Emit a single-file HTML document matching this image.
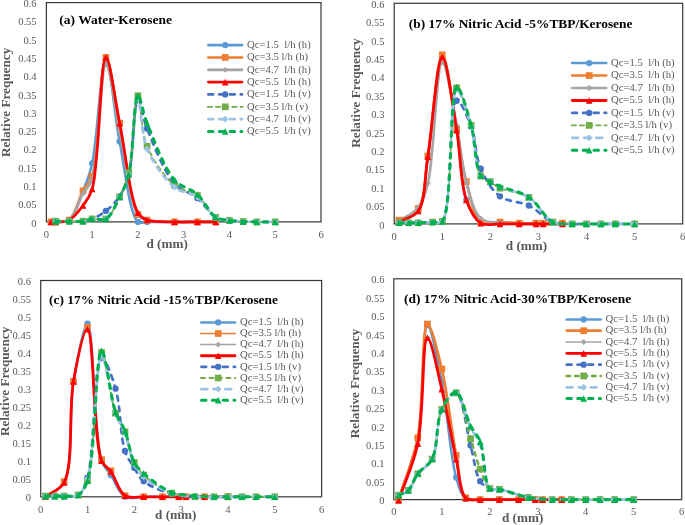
<!DOCTYPE html>
<html><head><meta charset="utf-8"><title>Drop size distributions</title>
<style>
html,body{margin:0;padding:0;background:#fff;}
body{width:685px;height:525px;overflow:hidden;font-family:"Liberation Serif",serif;}
svg{display:block;font-family:"Liberation Serif",serif;will-change:transform;}
.tk{font-size:10.5px;fill:#595959;}
.lg{font-size:10.7px;fill:#595959;white-space:pre;}
.tt{font-size:13.5px;font-weight:bold;fill:#000;}
.tt.sm{font-size:13.4px;}
.ax{font-size:13.2px;font-weight:bold;fill:#595959;}
</style></head><body>
<svg width="685" height="525" viewBox="0 0 685 525">
<rect width="685" height="525" fill="#fff"/>

<g id="panel-a">
<rect x="46.4" y="2.6" width="274.6" height="219.3" fill="#fff" stroke="#363636" stroke-width="1.2"/>
<text class="tk" x="36.6" y="226.5" text-anchor="end">0</text>
<text class="tk" x="36.6" y="208.22" text-anchor="end">0.05</text>
<text class="tk" x="36.6" y="189.95" text-anchor="end">0.1</text>
<text class="tk" x="36.6" y="171.67" text-anchor="end">0.15</text>
<text class="tk" x="36.6" y="153.4" text-anchor="end">0.2</text>
<text class="tk" x="36.6" y="135.12" text-anchor="end">0.25</text>
<text class="tk" x="36.6" y="116.85" text-anchor="end">0.3</text>
<text class="tk" x="36.6" y="98.57" text-anchor="end">0.35</text>
<text class="tk" x="36.6" y="80.3" text-anchor="end">0.4</text>
<text class="tk" x="36.6" y="62.02" text-anchor="end">0.45</text>
<text class="tk" x="36.6" y="43.75" text-anchor="end">0.5</text>
<text class="tk" x="36.6" y="25.47" text-anchor="end">0.55</text>
<text class="tk" x="36.6" y="7.2" text-anchor="end">0.6</text>
<text class="tk" x="46.4" y="238.3" text-anchor="middle">0</text>
<text class="tk" x="92.17" y="238.3" text-anchor="middle">1</text>
<text class="tk" x="137.93" y="238.3" text-anchor="middle">2</text>
<text class="tk" x="183.7" y="238.3" text-anchor="middle">3</text>
<text class="tk" x="229.47" y="238.3" text-anchor="middle">4</text>
<text class="tk" x="275.23" y="238.3" text-anchor="middle">5</text>
<text class="tk" x="321" y="238.3" text-anchor="middle">6</text>
<text class="ax" transform="translate(10.3 102.4) rotate(-90)" text-anchor="middle">Relative Frequency</text>
<text class="ax" x="167.1" y="247.8" text-anchor="middle">d (mm)</text>
<path d="M50.98 221.9C52.5 221.9 53.62 222.03 55.55 221.9C58.91 221.68 65.33 222.97 69.28 220.07C75.32 215.65 79.13 200.53 83.01 190.83C86.69 181.66 89.34 175.68 92.17 163.42C97.56 140.05 101.02 59.34 105.9 59.25C110.24 59.18 114.27 114.31 119.63 141.49C124.96 168.52 129.54 215.2 137.93 221.9C140.73 224.13 143.22 221.9 147.09 221.9C153.79 221.9 165.81 221.9 174.55 221.9C182.52 221.9 190.23 221.9 197.43 221.9C203.87 221.9 209.63 221.9 215.74 221.9" fill="none" stroke="#5B9BD5" stroke-width="2.6" stroke-linecap="round" stroke-linejoin="round"/>
<circle cx="50.98" cy="221.9" r="3.15" fill="#5B9BD5"/><circle cx="55.55" cy="221.9" r="3.15" fill="#5B9BD5"/><circle cx="69.28" cy="220.07" r="3.15" fill="#5B9BD5"/><circle cx="83.01" cy="190.83" r="3.15" fill="#5B9BD5"/><circle cx="92.17" cy="163.42" r="3.15" fill="#5B9BD5"/><circle cx="105.9" cy="59.25" r="3.15" fill="#5B9BD5"/><circle cx="119.63" cy="141.49" r="3.15" fill="#5B9BD5"/><circle cx="137.93" cy="221.9" r="3.15" fill="#5B9BD5"/><circle cx="147.09" cy="221.9" r="3.15" fill="#5B9BD5"/><circle cx="174.55" cy="221.9" r="3.15" fill="#5B9BD5"/><circle cx="197.43" cy="221.9" r="3.15" fill="#5B9BD5"/><circle cx="215.74" cy="221.9" r="3.15" fill="#5B9BD5"/>
<path d="M50.98 221.9C52.5 221.9 53.62 222.03 55.55 221.9C58.91 221.68 65.33 222.97 69.28 220.07C75.32 215.65 78.67 198.8 83.01 190.83C86.19 185.01 89.48 183.88 92.17 176.21C99.25 156.01 100.45 57.67 105.9 57.42C109.98 57.24 114.77 99.48 119.63 123.21C125.34 151.17 129.65 202.85 137.93 214.59C140.74 218.56 143.02 218.8 147.09 220.07C153.62 222.12 165.81 221.61 174.55 221.9C182.52 222.16 190.23 221.9 197.43 221.9C203.87 221.9 209.63 221.9 215.74 221.9" fill="none" stroke="#ED7D31" stroke-width="2.6" stroke-linecap="round" stroke-linejoin="round"/>
<rect x="47.63" y="218.55" width="6.7" height="6.7" fill="#ED7D31"/><rect x="52.2" y="218.55" width="6.7" height="6.7" fill="#ED7D31"/><rect x="65.93" y="216.72" width="6.7" height="6.7" fill="#ED7D31"/><rect x="79.66" y="187.48" width="6.7" height="6.7" fill="#ED7D31"/><rect x="88.82" y="172.86" width="6.7" height="6.7" fill="#ED7D31"/><rect x="102.55" y="54.07" width="6.7" height="6.7" fill="#ED7D31"/><rect x="116.28" y="119.86" width="6.7" height="6.7" fill="#ED7D31"/><rect x="134.58" y="211.24" width="6.7" height="6.7" fill="#ED7D31"/><rect x="143.74" y="216.72" width="6.7" height="6.7" fill="#ED7D31"/><rect x="171.2" y="218.55" width="6.7" height="6.7" fill="#ED7D31"/><rect x="194.08" y="218.55" width="6.7" height="6.7" fill="#ED7D31"/><rect x="212.39" y="218.55" width="6.7" height="6.7" fill="#ED7D31"/>
<path d="M50.98 221.9C52.5 221.9 53.62 222.03 55.55 221.9C58.91 221.68 65.3 222.88 69.28 220.07C75.15 215.94 78.71 200.75 83.01 193.39C86.22 187.91 89.48 186.85 92.17 179.5C99.26 160.13 100.51 64.97 105.9 64.73C110 64.56 114.67 107.26 119.63 130.52C125.24 156.84 129.94 203.45 137.93 214.59C140.75 218.51 143.02 218.8 147.09 220.07C153.62 222.12 165.81 221.61 174.55 221.9C182.52 222.16 190.23 221.9 197.43 221.9C203.87 221.9 209.63 221.9 215.74 221.9" fill="none" stroke="#A5A5A5" stroke-width="2.7" stroke-linecap="round" stroke-linejoin="round"/>
<path d="M50.98 219L53.88 221.9L50.98 224.8L48.08 221.9Z" fill="#A5A5A5"/><path d="M55.55 219L58.45 221.9L55.55 224.8L52.65 221.9Z" fill="#A5A5A5"/><path d="M69.28 217.17L72.18 220.07L69.28 222.97L66.38 220.07Z" fill="#A5A5A5"/><path d="M83.01 190.49L85.91 193.39L83.01 196.29L80.11 193.39Z" fill="#A5A5A5"/><path d="M92.17 176.6L95.07 179.5L92.17 182.4L89.27 179.5Z" fill="#A5A5A5"/><path d="M105.9 61.83L108.8 64.73L105.9 67.63L103 64.73Z" fill="#A5A5A5"/><path d="M119.63 127.62L122.53 130.52L119.63 133.42L116.73 130.52Z" fill="#A5A5A5"/><path d="M137.93 211.69L140.83 214.59L137.93 217.49L135.03 214.59Z" fill="#A5A5A5"/><path d="M147.09 217.17L149.99 220.07L147.09 222.97L144.19 220.07Z" fill="#A5A5A5"/><path d="M174.55 219L177.45 221.9L174.55 224.8L171.65 221.9Z" fill="#A5A5A5"/><path d="M197.43 219L200.33 221.9L197.43 224.8L194.53 221.9Z" fill="#A5A5A5"/><path d="M215.74 219L218.64 221.9L215.74 224.8L212.84 221.9Z" fill="#A5A5A5"/>
<path d="M50.98 221.9C52.5 221.9 53.62 222.03 55.55 221.9C58.91 221.68 65.06 222.24 69.28 220.07C74.37 217.46 79.16 210.73 83.01 205.45C86.74 200.34 89.48 197.52 92.17 189C99.29 166.44 100.24 57.71 105.9 57.42C109.93 57.22 114.75 99.59 119.63 123.21C125.32 150.76 130.05 199.88 137.93 212.76C140.76 217.37 142.88 218.44 147.09 220.07C153.53 222.57 165.81 221.61 174.55 221.9C182.52 222.16 190.23 221.9 197.43 221.9C203.87 221.9 209.63 221.9 215.74 221.9" fill="none" stroke="#FF0000" stroke-width="2.75" stroke-linecap="round" stroke-linejoin="round"/>
<path d="M50.98 218.6L54.28 225.2L47.68 225.2Z" fill="#FF0000"/><path d="M55.55 218.6L58.85 225.2L52.25 225.2Z" fill="#FF0000"/><path d="M69.28 216.77L72.58 223.37L65.98 223.37Z" fill="#FF0000"/><path d="M83.01 202.15L86.31 208.75L79.71 208.75Z" fill="#FF0000"/><path d="M92.17 185.7L95.47 192.31L88.87 192.31Z" fill="#FF0000"/><path d="M105.9 54.12L109.2 60.72L102.6 60.72Z" fill="#FF0000"/><path d="M119.63 119.91L122.93 126.51L116.33 126.51Z" fill="#FF0000"/><path d="M137.93 209.46L141.23 216.06L134.63 216.06Z" fill="#FF0000"/><path d="M147.09 216.77L150.39 223.37L143.79 223.37Z" fill="#FF0000"/><path d="M174.55 218.6L177.85 225.2L171.25 225.2Z" fill="#FF0000"/><path d="M197.43 218.6L200.73 225.2L194.13 225.2Z" fill="#FF0000"/><path d="M215.74 218.6L219.04 225.2L212.44 225.2Z" fill="#FF0000"/>
<path d="M55.55 221.17C60.13 221.17 64.71 221.17 69.28 221.17C73.86 221.17 78.92 221.65 83.01 221.17C86.4 220.77 88.91 220.29 92.17 218.98C96.4 217.27 101.56 214.4 105.9 210.94C110.77 207.05 115.9 202.07 119.63 196.31C123.68 190.05 126.21 184.1 128.78 174.38C133.36 157.06 133.82 99.83 137.93 99.46C140.55 99.22 142.62 117.64 147.09 128.7C153.41 144.34 164.01 171.82 174.55 183.52C181.56 191.31 190.54 192.44 197.43 198.14C204.26 203.79 209.52 214.02 215.74 217.51C220.25 220.05 224.87 219.77 229.47 220.44C234.02 221.1 238.62 221.29 243.2 221.53C247.77 221.78 252.02 221.83 256.93 221.9C262.59 221.98 269.13 221.9 275.23 221.9" fill="none" stroke="#4472C4" stroke-width="2.75" stroke-linecap="round" stroke-linejoin="round" stroke-dasharray="4.75 6.05"/>
<circle cx="55.55" cy="221.17" r="3.15" fill="#4472C4"/><circle cx="69.28" cy="221.17" r="3.15" fill="#4472C4"/><circle cx="83.01" cy="221.17" r="3.15" fill="#4472C4"/><circle cx="92.17" cy="218.98" r="3.15" fill="#4472C4"/><circle cx="105.9" cy="210.94" r="3.15" fill="#4472C4"/><circle cx="119.63" cy="196.31" r="3.15" fill="#4472C4"/><circle cx="128.78" cy="174.38" r="3.15" fill="#4472C4"/><circle cx="137.93" cy="99.46" r="3.15" fill="#4472C4"/><circle cx="147.09" cy="128.7" r="3.15" fill="#4472C4"/><circle cx="174.55" cy="183.52" r="3.15" fill="#4472C4"/><circle cx="197.43" cy="198.14" r="3.15" fill="#4472C4"/><circle cx="215.74" cy="217.51" r="3.15" fill="#4472C4"/><circle cx="229.47" cy="220.44" r="3.15" fill="#4472C4"/><circle cx="243.2" cy="221.53" r="3.15" fill="#4472C4"/><circle cx="256.93" cy="221.9" r="3.15" fill="#4472C4"/><circle cx="275.23" cy="221.9" r="3.15" fill="#4472C4"/>
<path d="M55.55 221.17C60.13 221.17 64.71 221.17 69.28 221.17C73.86 221.17 78.92 221.65 83.01 221.17C86.4 220.77 88.78 219.38 92.17 218.98C96.26 218.49 101.84 221.22 105.9 218.98C111.46 215.9 115.82 204.76 119.63 197.05C123.45 189.29 126.2 183.19 128.78 172.56C133.22 154.27 134.5 95.91 137.93 95.8C140.73 95.72 140.76 131.11 147.09 146.24C153.19 160.85 164.59 177.14 174.55 185.35C181.76 191.29 190.73 190.51 197.43 195.58C204.59 201 209.38 213.68 215.74 217.51C220.19 220.2 224.87 219.77 229.47 220.44C234.02 221.1 238.62 221.29 243.2 221.53C247.77 221.78 252.02 221.83 256.93 221.9C262.59 221.98 269.13 221.9 275.23 221.9" fill="none" stroke="#70AD47" stroke-width="1.75" stroke-linecap="butt" stroke-linejoin="round" stroke-dasharray="5.8 2.4"/>
<rect x="52.2" y="217.82" width="6.7" height="6.7" fill="#70AD47"/><rect x="65.93" y="217.82" width="6.7" height="6.7" fill="#70AD47"/><rect x="79.66" y="217.82" width="6.7" height="6.7" fill="#70AD47"/><rect x="88.82" y="215.63" width="6.7" height="6.7" fill="#70AD47"/><rect x="102.55" y="215.63" width="6.7" height="6.7" fill="#70AD47"/><rect x="116.28" y="193.7" width="6.7" height="6.7" fill="#70AD47"/><rect x="125.43" y="169.21" width="6.7" height="6.7" fill="#70AD47"/><rect x="134.58" y="92.45" width="6.7" height="6.7" fill="#70AD47"/><rect x="143.74" y="142.89" width="6.7" height="6.7" fill="#70AD47"/><rect x="171.2" y="182" width="6.7" height="6.7" fill="#70AD47"/><rect x="194.08" y="192.23" width="6.7" height="6.7" fill="#70AD47"/><rect x="212.39" y="214.16" width="6.7" height="6.7" fill="#70AD47"/><rect x="226.12" y="217.09" width="6.7" height="6.7" fill="#70AD47"/><rect x="239.85" y="218.18" width="6.7" height="6.7" fill="#70AD47"/><rect x="253.58" y="218.55" width="6.7" height="6.7" fill="#70AD47"/><rect x="271.88" y="218.55" width="6.7" height="6.7" fill="#70AD47"/>
<path d="M55.55 221.17C60.13 221.17 64.71 221.17 69.28 221.17C73.86 221.17 78.92 221.65 83.01 221.17C86.4 220.77 88.78 219.38 92.17 218.98C96.26 218.49 101.84 221.22 105.9 218.98C111.46 215.9 115.78 204.59 119.63 197.05C123.37 189.71 126.21 184.35 128.78 174.38C133.3 156.87 134.5 99.56 137.93 99.46C140.73 99.37 140.79 134.01 147.09 148.8C153.19 163.15 164.62 179.17 174.55 187.18C181.76 193 190.69 192.19 197.43 197.05C204.51 202.14 209.46 213.87 215.74 217.51C220.22 220.12 224.87 219.77 229.47 220.44C234.02 221.1 238.62 221.29 243.2 221.53C247.77 221.78 252.02 221.83 256.93 221.9C262.59 221.98 269.13 221.9 275.23 221.9" fill="none" stroke="#9DC3E6" stroke-width="2.75" stroke-linecap="round" stroke-linejoin="round" stroke-dasharray="4.75 6.05"/>
<path d="M55.55 217.77L58.95 221.17L55.55 224.57L52.15 221.17Z" fill="#9DC3E6"/><path d="M69.28 217.77L72.68 221.17L69.28 224.57L65.88 221.17Z" fill="#9DC3E6"/><path d="M83.01 217.77L86.41 221.17L83.01 224.57L79.61 221.17Z" fill="#9DC3E6"/><path d="M92.17 215.58L95.57 218.98L92.17 222.38L88.77 218.98Z" fill="#9DC3E6"/><path d="M105.9 215.58L109.3 218.98L105.9 222.38L102.5 218.98Z" fill="#9DC3E6"/><path d="M119.63 193.65L123.03 197.05L119.63 200.45L116.23 197.05Z" fill="#9DC3E6"/><path d="M128.78 170.98L132.18 174.38L128.78 177.78L125.38 174.38Z" fill="#9DC3E6"/><path d="M137.93 96.06L141.33 99.46L137.93 102.86L134.53 99.46Z" fill="#9DC3E6"/><path d="M147.09 145.4L150.49 148.8L147.09 152.2L143.69 148.8Z" fill="#9DC3E6"/><path d="M174.55 183.78L177.95 187.18L174.55 190.58L171.15 187.18Z" fill="#9DC3E6"/><path d="M197.43 193.65L200.83 197.05L197.43 200.45L194.03 197.05Z" fill="#9DC3E6"/><path d="M215.74 214.11L219.14 217.51L215.74 220.91L212.34 217.51Z" fill="#9DC3E6"/><path d="M229.47 217.04L232.87 220.44L229.47 223.84L226.07 220.44Z" fill="#9DC3E6"/><path d="M243.2 218.13L246.6 221.53L243.2 224.93L239.8 221.53Z" fill="#9DC3E6"/><path d="M256.93 218.5L260.33 221.9L256.93 225.3L253.53 221.9Z" fill="#9DC3E6"/><path d="M275.23 218.5L278.63 221.9L275.23 225.3L271.83 221.9Z" fill="#9DC3E6"/>
<path d="M55.55 221.17C60.13 221.17 64.71 221.17 69.28 221.17C73.86 221.17 78.93 221.73 83.01 221.17C86.41 220.7 88.77 219.03 92.17 218.61C96.25 218.11 101.84 221.15 105.9 218.98C111.46 215.99 115.78 204.59 119.63 197.05C123.37 189.71 126.21 184.44 128.78 174.38C133.4 156.29 133.64 96.25 137.93 95.8C140.53 95.53 142.76 112.6 147.09 123.21C153.47 138.88 163.91 167.9 174.55 179.87C181.53 187.73 190.66 188.43 197.43 194.49C204.45 200.77 209.36 213.12 215.74 217.15C220.18 219.95 224.86 219.71 229.47 220.44C234.02 221.16 238.62 221.29 243.2 221.53C247.77 221.78 252.02 221.83 256.93 221.9C262.59 221.98 269.13 221.9 275.23 221.9" fill="none" stroke="#00B050" stroke-width="3.05" stroke-linecap="round" stroke-linejoin="round" stroke-dasharray="4.45 6.35"/>
<path d="M55.55 217.87L58.85 224.47L52.25 224.47Z" fill="#00B050"/><path d="M69.28 217.87L72.58 224.47L65.98 224.47Z" fill="#00B050"/><path d="M83.01 217.87L86.31 224.47L79.71 224.47Z" fill="#00B050"/><path d="M92.17 215.31L95.47 221.91L88.87 221.91Z" fill="#00B050"/><path d="M105.9 215.68L109.2 222.28L102.6 222.28Z" fill="#00B050"/><path d="M119.63 193.75L122.93 200.35L116.33 200.35Z" fill="#00B050"/><path d="M128.78 171.08L132.08 177.69L125.48 177.69Z" fill="#00B050"/><path d="M137.93 92.5L141.23 99.1L134.63 99.1Z" fill="#00B050"/><path d="M147.09 119.91L150.39 126.51L143.79 126.51Z" fill="#00B050"/><path d="M174.55 176.57L177.85 183.17L171.25 183.17Z" fill="#00B050"/><path d="M197.43 191.19L200.73 197.79L194.13 197.79Z" fill="#00B050"/><path d="M215.74 213.85L219.04 220.45L212.44 220.45Z" fill="#00B050"/><path d="M229.47 217.14L232.77 223.74L226.17 223.74Z" fill="#00B050"/><path d="M243.2 218.23L246.5 224.83L239.9 224.83Z" fill="#00B050"/><path d="M256.93 218.6L260.23 225.2L253.63 225.2Z" fill="#00B050"/><path d="M275.23 218.6L278.53 225.2L271.93 225.2Z" fill="#00B050"/>
<text class="tt" x="59.3" y="24.2">(a) Water-Kerosene</text>
<path d="M208.3 45.1H242.1" stroke="#5B9BD5" stroke-width="2.6" stroke-linecap="round" fill="none"/>
<circle cx="225.2" cy="45.1" r="3.15" fill="#5B9BD5"/>
<text class="lg" xml:space="preserve" x="247.1" y="47.85">Qc=1.5  l/h (h)</text>
<path d="M208.3 57.44H242.1" stroke="#ED7D31" stroke-width="2.6" stroke-linecap="round" fill="none"/>
<rect x="221.85" y="54.09" width="6.7" height="6.7" fill="#ED7D31"/>
<text class="lg" xml:space="preserve" x="247.1" y="60.19">Qc=3.5 l/h (h)</text>
<path d="M208.35 69.78H242.05" stroke="#A5A5A5" stroke-width="2.7" stroke-linecap="round" fill="none"/>
<path d="M225.2 66.88L228.1 69.78L225.2 72.68L222.3 69.78Z" fill="#A5A5A5"/>
<text class="lg" xml:space="preserve" x="247.1" y="72.53">Qc=4.7  l/h (h)</text>
<path d="M208.38 82.12H242.03" stroke="#FF0000" stroke-width="2.75" stroke-linecap="round" fill="none"/>
<path d="M225.2 78.82L228.5 85.42L221.9 85.42Z" fill="#FF0000"/>
<text class="lg" xml:space="preserve" x="247.1" y="84.87">Qc=5.5  l/h (h)</text>
<path d="M208.38 94.46H242.03" stroke="#4472C4" stroke-width="2.75" stroke-linecap="round" stroke-dasharray="4.75 6.05" fill="none"/>
<circle cx="225.2" cy="94.46" r="3.15" fill="#4472C4"/>
<text class="lg" xml:space="preserve" x="247.1" y="97.21">Qc=1.5  l/h (v)</text>
<path d="M207 106.8H243.4" stroke="#70AD47" stroke-width="1.75" stroke-linecap="butt" stroke-dasharray="5.8 2.4" fill="none"/>
<rect x="221.85" y="103.45" width="6.7" height="6.7" fill="#70AD47"/>
<text class="lg" xml:space="preserve" x="247.1" y="109.55">Qc=3.5 l/h (v)</text>
<path d="M208.38 119.14H242.03" stroke="#9DC3E6" stroke-width="2.75" stroke-linecap="round" stroke-dasharray="4.75 6.05" fill="none"/>
<path d="M225.2 115.74L228.6 119.14L225.2 122.54L221.8 119.14Z" fill="#9DC3E6"/>
<text class="lg" xml:space="preserve" x="247.1" y="121.89">Qc=4.7  l/h (v)</text>
<path d="M208.53 131.48H241.88" stroke="#00B050" stroke-width="3.05" stroke-linecap="round" stroke-dasharray="4.45 6.35" fill="none"/>
<path d="M225.2 128.18L228.5 134.78L221.9 134.78Z" fill="#00B050"/>
<text class="lg" xml:space="preserve" x="247.1" y="134.23">Qc=5.5  l/h (v)</text>
</g>
<g id="panel-b">
<rect x="394.2" y="3.3" width="288.5" height="220.6" fill="#fff" stroke="#363636" stroke-width="1.2"/>
<text class="tk" x="384.4" y="228.5" text-anchor="end">0</text>
<text class="tk" x="384.4" y="210.12" text-anchor="end">0.05</text>
<text class="tk" x="384.4" y="191.73" text-anchor="end">0.1</text>
<text class="tk" x="384.4" y="173.35" text-anchor="end">0.15</text>
<text class="tk" x="384.4" y="154.97" text-anchor="end">0.2</text>
<text class="tk" x="384.4" y="136.58" text-anchor="end">0.25</text>
<text class="tk" x="384.4" y="118.2" text-anchor="end">0.3</text>
<text class="tk" x="384.4" y="99.82" text-anchor="end">0.35</text>
<text class="tk" x="384.4" y="81.43" text-anchor="end">0.4</text>
<text class="tk" x="384.4" y="63.05" text-anchor="end">0.45</text>
<text class="tk" x="384.4" y="44.67" text-anchor="end">0.5</text>
<text class="tk" x="384.4" y="26.28" text-anchor="end">0.55</text>
<text class="tk" x="384.4" y="7.9" text-anchor="end">0.6</text>
<text class="tk" x="394.2" y="240.4" text-anchor="middle">0</text>
<text class="tk" x="442.28" y="240.4" text-anchor="middle">1</text>
<text class="tk" x="490.37" y="240.4" text-anchor="middle">2</text>
<text class="tk" x="538.45" y="240.4" text-anchor="middle">3</text>
<text class="tk" x="586.53" y="240.4" text-anchor="middle">4</text>
<text class="tk" x="634.62" y="240.4" text-anchor="middle">5</text>
<text class="tk" x="682.7" y="240.4" text-anchor="middle">6</text>
<text class="ax" transform="translate(360.3 93.1) rotate(-90)" text-anchor="middle">Relative Frequency</text>
<text class="ax" x="526.5" y="249.6" text-anchor="middle">d (mm)</text>
<path d="M399.01 222.06C405.42 218.38 413.53 217.71 418.24 211.03C425.6 200.59 424.51 178.26 427.86 157.72C432.41 129.76 437.03 58.59 442.28 58.45C446.77 58.33 452.68 106.34 456.71 130.14C460.66 153.52 460.3 183.51 466.32 200C470.05 210.2 474.44 219.08 480.75 222.8C486.09 225.94 493.57 223.72 499.98 223.9C506.39 224.08 513.02 223.9 519.22 223.9C525.01 223.9 531.61 223.9 536.05 223.9C538.95 223.9 540.28 223.9 543.26 223.9C548.13 223.9 556.08 223.9 562.49 223.9" fill="none" stroke="#5B9BD5" stroke-width="2.5" stroke-linecap="round" stroke-linejoin="round"/>
<circle cx="399.01" cy="222.06" r="3.15" fill="#5B9BD5"/><circle cx="418.24" cy="211.03" r="3.15" fill="#5B9BD5"/><circle cx="427.86" cy="157.72" r="3.15" fill="#5B9BD5"/><circle cx="442.28" cy="58.45" r="3.15" fill="#5B9BD5"/><circle cx="456.71" cy="130.14" r="3.15" fill="#5B9BD5"/><circle cx="466.32" cy="200" r="3.15" fill="#5B9BD5"/><circle cx="480.75" cy="222.8" r="3.15" fill="#5B9BD5"/><circle cx="499.98" cy="223.9" r="3.15" fill="#5B9BD5"/><circle cx="519.22" cy="223.9" r="3.15" fill="#5B9BD5"/><circle cx="536.05" cy="223.9" r="3.15" fill="#5B9BD5"/><circle cx="543.26" cy="223.9" r="3.15" fill="#5B9BD5"/><circle cx="562.49" cy="223.9" r="3.15" fill="#5B9BD5"/>
<path d="M399.01 220.22C405.42 216.3 413.54 215.32 418.24 208.46C425.49 197.9 424.54 176.28 427.86 155.88C432.45 127.68 437.06 54.9 442.28 54.77C446.78 54.66 452.44 106.41 456.71 129.04C460.3 148.07 461.98 165.4 466.32 181.62C470.22 196.15 473.08 216.66 480.75 222.06C485.88 225.68 493.57 221.88 499.98 222.06C506.4 222.25 513.02 222.99 519.22 223.16C525.01 223.33 531.61 223.16 536.05 223.16C538.95 223.16 540.28 223.16 543.26 223.16C548.13 223.16 556.08 223.16 562.49 223.16" fill="none" stroke="#ED7D31" stroke-width="2.6" stroke-linecap="round" stroke-linejoin="round"/>
<rect x="395.66" y="216.87" width="6.7" height="6.7" fill="#ED7D31"/><rect x="414.89" y="205.11" width="6.7" height="6.7" fill="#ED7D31"/><rect x="424.51" y="152.53" width="6.7" height="6.7" fill="#ED7D31"/><rect x="438.93" y="51.42" width="6.7" height="6.7" fill="#ED7D31"/><rect x="453.36" y="125.69" width="6.7" height="6.7" fill="#ED7D31"/><rect x="462.97" y="178.27" width="6.7" height="6.7" fill="#ED7D31"/><rect x="477.4" y="218.71" width="6.7" height="6.7" fill="#ED7D31"/><rect x="496.63" y="218.71" width="6.7" height="6.7" fill="#ED7D31"/><rect x="515.87" y="219.81" width="6.7" height="6.7" fill="#ED7D31"/><rect x="532.7" y="219.81" width="6.7" height="6.7" fill="#ED7D31"/><rect x="539.91" y="219.81" width="6.7" height="6.7" fill="#ED7D31"/><rect x="559.14" y="219.81" width="6.7" height="6.7" fill="#ED7D31"/>
<path d="M399.01 222.06C405.42 217.16 413.46 213.65 418.24 207.36C423.18 200.87 424.97 194.76 427.86 183.46C434.16 158.84 436.44 62.44 442.28 62.13C446.54 61.9 452.62 104.85 456.71 125.37C460.55 144.61 461.71 165.06 466.32 181.62C470.16 195.39 473.44 212.09 480.75 218.38C485.91 222.83 493.53 221.88 499.98 222.8C506.36 223.7 513.02 223.72 519.22 223.9C525.01 224.07 531.61 223.9 536.05 223.9C538.95 223.9 540.28 223.9 543.26 223.9C548.13 223.9 556.08 223.9 562.49 223.9" fill="none" stroke="#A5A5A5" stroke-width="2.6" stroke-linecap="round" stroke-linejoin="round"/>
<path d="M399.01 219.16L401.91 222.06L399.01 224.96L396.11 222.06Z" fill="#A5A5A5"/><path d="M418.24 204.46L421.14 207.36L418.24 210.26L415.34 207.36Z" fill="#A5A5A5"/><path d="M427.86 180.56L430.76 183.46L427.86 186.36L424.96 183.46Z" fill="#A5A5A5"/><path d="M442.28 59.23L445.18 62.13L442.28 65.03L439.38 62.13Z" fill="#A5A5A5"/><path d="M456.71 122.47L459.61 125.37L456.71 128.27L453.81 125.37Z" fill="#A5A5A5"/><path d="M466.32 178.72L469.22 181.62L466.32 184.52L463.43 181.62Z" fill="#A5A5A5"/><path d="M480.75 215.48L483.65 218.38L480.75 221.28L477.85 218.38Z" fill="#A5A5A5"/><path d="M499.98 219.9L502.88 222.8L499.98 225.7L497.08 222.8Z" fill="#A5A5A5"/><path d="M519.22 221L522.12 223.9L519.22 226.8L516.32 223.9Z" fill="#A5A5A5"/><path d="M536.05 221L538.95 223.9L536.05 226.8L533.15 223.9Z" fill="#A5A5A5"/><path d="M543.26 221L546.16 223.9L543.26 226.8L540.36 223.9Z" fill="#A5A5A5"/><path d="M562.49 221L565.39 223.9L562.49 226.8L559.59 223.9Z" fill="#A5A5A5"/>
<path d="M399.01 222.06C405.42 218.38 413.53 217.74 418.24 211.03C425.68 200.44 424.5 177.51 427.86 156.62C432.39 128.42 437.06 57.11 442.28 56.98C446.78 56.86 452.67 105.98 456.71 130.14C460.64 153.64 460.33 183.42 466.32 200C470.05 210.32 474.41 219.48 480.75 223.16C486.08 226.26 493.57 223.78 499.98 223.9C506.39 224.02 513.02 223.9 519.22 223.9C525.01 223.9 531.61 223.9 536.05 223.9C538.95 223.9 540.28 223.9 543.26 223.9C548.13 223.9 556.08 223.9 562.49 223.9" fill="none" stroke="#FF0000" stroke-width="2.8" stroke-linecap="round" stroke-linejoin="round"/>
<path d="M399.01 218.76L402.31 225.36L395.71 225.36Z" fill="#FF0000"/><path d="M418.24 207.73L421.54 214.33L414.94 214.33Z" fill="#FF0000"/><path d="M427.86 153.32L431.16 159.92L424.56 159.92Z" fill="#FF0000"/><path d="M442.28 53.68L445.58 60.28L438.98 60.28Z" fill="#FF0000"/><path d="M456.71 126.84L460.01 133.44L453.41 133.44Z" fill="#FF0000"/><path d="M466.32 196.7L469.62 203.3L463.02 203.3Z" fill="#FF0000"/><path d="M480.75 219.86L484.05 226.46L477.45 226.46Z" fill="#FF0000"/><path d="M499.98 220.6L503.28 227.2L496.68 227.2Z" fill="#FF0000"/><path d="M519.22 220.6L522.52 227.2L515.92 227.2Z" fill="#FF0000"/><path d="M536.05 220.6L539.35 227.2L532.75 227.2Z" fill="#FF0000"/><path d="M543.26 220.6L546.56 227.2L539.96 227.2Z" fill="#FF0000"/><path d="M562.49 220.6L565.79 227.2L559.19 227.2Z" fill="#FF0000"/>
<path d="M399.01 222.8C402.21 222.8 405.42 222.8 408.62 222.8C411.83 222.8 414.71 222.89 418.24 222.8C422.57 222.69 428.35 222.34 432.67 222.06C436.2 221.84 439.48 224.01 442.28 221.33C452.21 211.81 448.59 102.34 456.71 100.73C460.71 99.94 467.3 116.51 471.13 126.47C475.78 138.54 475.38 156.6 480.75 168.75C485.48 179.45 491.66 190.19 499.98 196.33C507.88 202.14 519.95 201.16 528.83 205.52C537.55 209.79 544.94 219.17 552.88 222.06C559.34 224.41 566.15 223.62 572.11 223.9C577.26 224.15 581.73 223.9 586.53 223.9C591.34 223.9 596.15 223.9 600.96 223.9C605.77 223.9 610.23 223.9 615.38 223.9C621.33 223.9 628.21 223.9 634.62 223.9" fill="none" stroke="#4472C4" stroke-width="2.75" stroke-linecap="round" stroke-linejoin="round" stroke-dasharray="4.75 6.05"/>
<circle cx="399.01" cy="222.8" r="3.15" fill="#4472C4"/><circle cx="408.62" cy="222.8" r="3.15" fill="#4472C4"/><circle cx="418.24" cy="222.8" r="3.15" fill="#4472C4"/><circle cx="432.67" cy="222.06" r="3.15" fill="#4472C4"/><circle cx="442.28" cy="221.33" r="3.15" fill="#4472C4"/><circle cx="456.71" cy="100.73" r="3.15" fill="#4472C4"/><circle cx="471.13" cy="126.47" r="3.15" fill="#4472C4"/><circle cx="480.75" cy="168.75" r="3.15" fill="#4472C4"/><circle cx="499.98" cy="196.33" r="3.15" fill="#4472C4"/><circle cx="528.83" cy="205.52" r="3.15" fill="#4472C4"/><circle cx="552.88" cy="222.06" r="3.15" fill="#4472C4"/><circle cx="572.11" cy="223.9" r="3.15" fill="#4472C4"/><circle cx="586.53" cy="223.9" r="3.15" fill="#4472C4"/><circle cx="600.96" cy="223.9" r="3.15" fill="#4472C4"/><circle cx="615.38" cy="223.9" r="3.15" fill="#4472C4"/><circle cx="634.62" cy="223.9" r="3.15" fill="#4472C4"/>
<path d="M399.01 222.8C402.21 222.8 405.42 222.8 408.62 222.8C411.83 222.8 414.71 222.89 418.24 222.8C422.57 222.69 428.35 222.34 432.67 222.06C436.2 221.84 439.48 224.04 442.28 221.33C452.73 211.2 449.33 88.83 456.71 87.86C460.75 87.34 467.25 111.73 471.13 125.37C475.53 140.82 475.01 168.04 480.75 176.1C483.41 179.84 487.2 179.63 490.37 181.62C493.61 183.66 495.72 186.15 499.98 188.24C506.85 191.6 520.23 192.12 528.83 197.43C538 203.09 544.55 218.08 552.88 222.06C559.11 225.05 566.15 223.62 572.11 223.9C577.26 224.15 581.73 223.9 586.53 223.9C591.34 223.9 596.15 223.9 600.96 223.9C605.77 223.9 610.23 223.9 615.38 223.9C621.33 223.9 628.21 223.9 634.62 223.9" fill="none" stroke="#70AD47" stroke-width="1.75" stroke-linecap="butt" stroke-linejoin="round" stroke-dasharray="5.8 2.4"/>
<rect x="395.66" y="219.45" width="6.7" height="6.7" fill="#70AD47"/><rect x="405.27" y="219.45" width="6.7" height="6.7" fill="#70AD47"/><rect x="414.89" y="219.45" width="6.7" height="6.7" fill="#70AD47"/><rect x="429.32" y="218.71" width="6.7" height="6.7" fill="#70AD47"/><rect x="438.93" y="217.98" width="6.7" height="6.7" fill="#70AD47"/><rect x="453.36" y="84.51" width="6.7" height="6.7" fill="#70AD47"/><rect x="467.78" y="122.02" width="6.7" height="6.7" fill="#70AD47"/><rect x="477.4" y="172.75" width="6.7" height="6.7" fill="#70AD47"/><rect x="487.02" y="178.27" width="6.7" height="6.7" fill="#70AD47"/><rect x="496.63" y="184.89" width="6.7" height="6.7" fill="#70AD47"/><rect x="525.48" y="194.08" width="6.7" height="6.7" fill="#70AD47"/><rect x="549.52" y="218.71" width="6.7" height="6.7" fill="#70AD47"/><rect x="568.76" y="220.55" width="6.7" height="6.7" fill="#70AD47"/><rect x="583.18" y="220.55" width="6.7" height="6.7" fill="#70AD47"/><rect x="597.61" y="220.55" width="6.7" height="6.7" fill="#70AD47"/><rect x="612.03" y="220.55" width="6.7" height="6.7" fill="#70AD47"/><rect x="631.27" y="220.55" width="6.7" height="6.7" fill="#70AD47"/>
<path d="M399.01 222.8C402.21 222.8 405.42 222.8 408.62 222.8C411.83 222.8 414.71 222.89 418.24 222.8C422.57 222.69 428.35 222.34 432.67 222.06C436.2 221.84 439.48 224.04 442.28 221.33C452.66 211.29 449.32 90.69 456.71 89.7C460.75 89.16 467.25 113.1 471.13 126.47C475.53 141.59 475.07 168.15 480.75 176.1C483.41 179.83 487.16 179.78 490.37 181.62C493.57 183.46 495.81 185.21 499.98 187.13C506.92 190.33 520.22 191.9 528.83 197.43C537.97 203.29 544.55 218.08 552.88 222.06C559.11 225.05 566.15 223.62 572.11 223.9C577.26 224.15 581.73 223.9 586.53 223.9C591.34 223.9 596.15 223.9 600.96 223.9C605.77 223.9 610.23 223.9 615.38 223.9C621.33 223.9 628.21 223.9 634.62 223.9" fill="none" stroke="#9DC3E6" stroke-width="2.75" stroke-linecap="round" stroke-linejoin="round" stroke-dasharray="5.85 6.15"/>
<path d="M399.01 219.4L402.41 222.8L399.01 226.2L395.61 222.8Z" fill="#9DC3E6"/><path d="M408.62 219.4L412.02 222.8L408.62 226.2L405.23 222.8Z" fill="#9DC3E6"/><path d="M418.24 219.4L421.64 222.8L418.24 226.2L414.84 222.8Z" fill="#9DC3E6"/><path d="M432.67 218.66L436.07 222.06L432.67 225.46L429.27 222.06Z" fill="#9DC3E6"/><path d="M442.28 217.93L445.68 221.33L442.28 224.73L438.88 221.33Z" fill="#9DC3E6"/><path d="M456.71 86.3L460.11 89.7L456.71 93.1L453.31 89.7Z" fill="#9DC3E6"/><path d="M471.13 123.07L474.53 126.47L471.13 129.87L467.73 126.47Z" fill="#9DC3E6"/><path d="M480.75 172.7L484.15 176.1L480.75 179.5L477.35 176.1Z" fill="#9DC3E6"/><path d="M490.37 178.22L493.77 181.62L490.37 185.02L486.97 181.62Z" fill="#9DC3E6"/><path d="M499.98 183.73L503.38 187.13L499.98 190.53L496.58 187.13Z" fill="#9DC3E6"/><path d="M528.83 194.03L532.23 197.43L528.83 200.83L525.43 197.43Z" fill="#9DC3E6"/><path d="M552.88 218.66L556.27 222.06L552.88 225.46L549.48 222.06Z" fill="#9DC3E6"/><path d="M572.11 220.5L575.51 223.9L572.11 227.3L568.71 223.9Z" fill="#9DC3E6"/><path d="M586.53 220.5L589.93 223.9L586.53 227.3L583.13 223.9Z" fill="#9DC3E6"/><path d="M600.96 220.5L604.36 223.9L600.96 227.3L597.56 223.9Z" fill="#9DC3E6"/><path d="M615.38 220.5L618.78 223.9L615.38 227.3L611.98 223.9Z" fill="#9DC3E6"/><path d="M634.62 220.5L638.02 223.9L634.62 227.3L631.22 223.9Z" fill="#9DC3E6"/>
<path d="M399.01 222.8C402.21 222.8 405.42 222.8 408.62 222.8C411.83 222.8 414.71 222.89 418.24 222.8C422.57 222.69 428.35 222.34 432.67 222.06C436.2 221.84 439.48 224.04 442.28 221.33C452.76 211.17 449.36 88.06 456.71 87.13C460.75 86.61 467.24 111.59 471.13 125.37C475.48 140.75 475.14 167.03 480.75 175.37C483.41 179.33 487.11 179.76 490.37 181.62C493.52 183.42 495.86 184.62 499.98 186.4C506.97 189.41 520.22 191.42 528.83 197.06C537.98 203.05 544.53 218.03 552.88 222.06C559.1 225.07 566.15 223.62 572.11 223.9C577.26 224.15 581.73 223.9 586.53 223.9C591.34 223.9 596.15 223.9 600.96 223.9C605.77 223.9 610.23 223.9 615.38 223.9C621.33 223.9 628.21 223.9 634.62 223.9" fill="none" stroke="#00B050" stroke-width="3.05" stroke-linecap="round" stroke-linejoin="round" stroke-dasharray="4.45 6.35"/>
<path d="M399.01 219.5L402.31 226.1L395.71 226.1Z" fill="#00B050"/><path d="M408.62 219.5L411.93 226.1L405.32 226.1Z" fill="#00B050"/><path d="M418.24 219.5L421.54 226.1L414.94 226.1Z" fill="#00B050"/><path d="M432.67 218.76L435.97 225.36L429.37 225.36Z" fill="#00B050"/><path d="M442.28 218.03L445.58 224.63L438.98 224.63Z" fill="#00B050"/><path d="M456.71 83.83L460.01 90.43L453.41 90.43Z" fill="#00B050"/><path d="M471.13 122.07L474.43 128.67L467.83 128.67Z" fill="#00B050"/><path d="M480.75 172.07L484.05 178.67L477.45 178.67Z" fill="#00B050"/><path d="M490.37 178.32L493.67 184.92L487.07 184.92Z" fill="#00B050"/><path d="M499.98 183.1L503.28 189.7L496.68 189.7Z" fill="#00B050"/><path d="M528.83 193.76L532.13 200.36L525.53 200.36Z" fill="#00B050"/><path d="M552.88 218.76L556.17 225.36L549.58 225.36Z" fill="#00B050"/><path d="M572.11 220.6L575.41 227.2L568.81 227.2Z" fill="#00B050"/><path d="M586.53 220.6L589.83 227.2L583.23 227.2Z" fill="#00B050"/><path d="M600.96 220.6L604.26 227.2L597.66 227.2Z" fill="#00B050"/><path d="M615.38 220.6L618.68 227.2L612.08 227.2Z" fill="#00B050"/><path d="M634.62 220.6L637.92 227.2L631.32 227.2Z" fill="#00B050"/>
<text class="tt sm" x="408.8" y="27.7">(b) 17% Nitric Acid -5%TBP/Kerosene</text>
<path d="M572.15 63.1H606.25" stroke="#5B9BD5" stroke-width="2.5" stroke-linecap="round" fill="none"/>
<circle cx="589.2" cy="63.1" r="3.15" fill="#5B9BD5"/>
<text class="lg" xml:space="preserve" x="611" y="65.85">Qc=1.5  l/h (h)</text>
<path d="M572.2 75.56H606.2" stroke="#ED7D31" stroke-width="2.6" stroke-linecap="round" fill="none"/>
<rect x="585.85" y="72.21" width="6.7" height="6.7" fill="#ED7D31"/>
<text class="lg" xml:space="preserve" x="611" y="78.31">Qc=3.5  l/h (h)</text>
<path d="M572.2 88.02H606.2" stroke="#A5A5A5" stroke-width="2.6" stroke-linecap="round" fill="none"/>
<path d="M589.2 85.12L592.1 88.02L589.2 90.92L586.3 88.02Z" fill="#A5A5A5"/>
<text class="lg" xml:space="preserve" x="611" y="90.77">Qc=4.7  l/h (h)</text>
<path d="M572.3 100.48H606.1" stroke="#FF0000" stroke-width="2.8" stroke-linecap="round" fill="none"/>
<path d="M589.2 97.18L592.5 103.78L585.9 103.78Z" fill="#FF0000"/>
<text class="lg" xml:space="preserve" x="611" y="103.23">Qc=5.5  l/h (h)</text>
<path d="M572.27 112.94H606.12" stroke="#4472C4" stroke-width="2.75" stroke-linecap="round" stroke-dasharray="4.75 6.05" fill="none"/>
<circle cx="589.2" cy="112.94" r="3.15" fill="#4472C4"/>
<text class="lg" xml:space="preserve" x="611" y="115.69">Qc=1.5  l/h (v)</text>
<path d="M570.9 125.4H607.5" stroke="#70AD47" stroke-width="1.75" stroke-linecap="butt" stroke-dasharray="5.8 2.4" fill="none"/>
<rect x="585.85" y="122.05" width="6.7" height="6.7" fill="#70AD47"/>
<text class="lg" xml:space="preserve" x="611" y="128.15">Qc=3.5 l/h (v)</text>
<path d="M572.27 137.86H606.12" stroke="#9DC3E6" stroke-width="2.75" stroke-linecap="round" stroke-dasharray="5.85 6.15" fill="none"/>
<path d="M589.2 134.46L592.6 137.86L589.2 141.26L585.8 137.86Z" fill="#9DC3E6"/>
<text class="lg" xml:space="preserve" x="611" y="140.61">Qc=4.7  l/h (v)</text>
<path d="M572.42 150.32H605.98" stroke="#00B050" stroke-width="3.05" stroke-linecap="round" stroke-dasharray="4.45 6.35" fill="none"/>
<path d="M589.2 147.02L592.5 153.62L585.9 153.62Z" fill="#00B050"/>
<text class="lg" xml:space="preserve" x="611" y="153.07">Qc=5.5  l/h (v)</text>
</g>
<g id="panel-c">
<rect x="40.7" y="280.5" width="280.9" height="216.3" fill="#fff" stroke="#363636" stroke-width="1.2"/>
<text class="tk" x="30.9" y="501.4" text-anchor="end">0</text>
<text class="tk" x="30.9" y="483.38" text-anchor="end">0.05</text>
<text class="tk" x="30.9" y="465.35" text-anchor="end">0.1</text>
<text class="tk" x="30.9" y="447.33" text-anchor="end">0.15</text>
<text class="tk" x="30.9" y="429.3" text-anchor="end">0.2</text>
<text class="tk" x="30.9" y="411.28" text-anchor="end">0.25</text>
<text class="tk" x="30.9" y="393.25" text-anchor="end">0.3</text>
<text class="tk" x="30.9" y="375.23" text-anchor="end">0.35</text>
<text class="tk" x="30.9" y="357.2" text-anchor="end">0.4</text>
<text class="tk" x="30.9" y="339.18" text-anchor="end">0.45</text>
<text class="tk" x="30.9" y="321.15" text-anchor="end">0.5</text>
<text class="tk" x="30.9" y="303.12" text-anchor="end">0.55</text>
<text class="tk" x="30.9" y="285.1" text-anchor="end">0.6</text>
<text class="tk" x="40.7" y="513" text-anchor="middle">0</text>
<text class="tk" x="87.52" y="513" text-anchor="middle">1</text>
<text class="tk" x="134.33" y="513" text-anchor="middle">2</text>
<text class="tk" x="181.15" y="513" text-anchor="middle">3</text>
<text class="tk" x="227.97" y="513" text-anchor="middle">4</text>
<text class="tk" x="274.78" y="513" text-anchor="middle">5</text>
<text class="tk" x="321.6" y="513" text-anchor="middle">6</text>
<text class="ax" transform="translate(9.4 381.4) rotate(-90)" text-anchor="middle">Relative Frequency</text>
<text class="ax" x="175.7" y="518.9" text-anchor="middle">d (mm)</text>
<path d="M45.38 496.8C51.62 491.99 59.41 490.91 64.11 482.38C73.84 464.71 68.65 410.26 73.47 381.44C77.16 359.39 83.47 323.48 87.52 323.76C93.68 324.18 93.81 438.78 101.56 460.75C104.3 468.51 107.49 469.88 110.93 475.17C115.13 481.65 118.86 493.48 124.97 496.8C130.18 499.63 137.45 496.8 143.7 496.8C149.94 496.8 156.39 496.8 162.42 496.8C168.07 496.8 174.49 496.8 178.81 496.8C181.64 496.8 182.93 496.8 185.83 496.8C190.57 496.8 197.97 496.8 204.56 496.8C211.93 496.8 220.16 496.8 227.97 496.8" fill="none" stroke="#5B9BD5" stroke-width="2.5" stroke-linecap="round" stroke-linejoin="round"/>
<circle cx="45.38" cy="496.8" r="3.15" fill="#5B9BD5"/><circle cx="64.11" cy="482.38" r="3.15" fill="#5B9BD5"/><circle cx="73.47" cy="381.44" r="3.15" fill="#5B9BD5"/><circle cx="87.52" cy="323.76" r="3.15" fill="#5B9BD5"/><circle cx="101.56" cy="460.75" r="3.15" fill="#5B9BD5"/><circle cx="110.93" cy="475.17" r="3.15" fill="#5B9BD5"/><circle cx="124.97" cy="496.8" r="3.15" fill="#5B9BD5"/><circle cx="143.7" cy="496.8" r="3.15" fill="#5B9BD5"/><circle cx="162.42" cy="496.8" r="3.15" fill="#5B9BD5"/><circle cx="178.81" cy="496.8" r="3.15" fill="#5B9BD5"/><circle cx="185.83" cy="496.8" r="3.15" fill="#5B9BD5"/><circle cx="204.56" cy="496.8" r="3.15" fill="#5B9BD5"/><circle cx="227.97" cy="496.8" r="3.15" fill="#5B9BD5"/>
<path d="M45.38 496.8C51.62 491.75 59.42 490.42 64.11 481.66C73.7 463.76 68.54 409.57 73.47 381.44C77.15 360.48 83.48 327.07 87.52 327.37C93.74 327.83 93.31 440.25 101.56 459.67C104.29 466.1 107.71 466.2 110.93 470.84C115.42 477.34 118.62 491.76 124.97 495.72C130.12 498.93 137.45 496.62 143.7 496.8C149.94 496.98 156.39 496.8 162.42 496.8C168.07 496.8 174.49 496.8 178.81 496.8C181.64 496.8 182.93 496.8 185.83 496.8C190.57 496.8 197.97 496.8 204.56 496.8C211.93 496.8 220.16 496.8 227.97 496.8" fill="none" stroke="#ED7D31" stroke-width="1.6" stroke-linecap="round" stroke-linejoin="round"/>
<rect x="42.03" y="493.45" width="6.7" height="6.7" fill="#ED7D31"/><rect x="60.76" y="478.31" width="6.7" height="6.7" fill="#ED7D31"/><rect x="70.12" y="378.09" width="6.7" height="6.7" fill="#ED7D31"/><rect x="84.17" y="324.01" width="6.7" height="6.7" fill="#ED7D31"/><rect x="98.21" y="456.32" width="6.7" height="6.7" fill="#ED7D31"/><rect x="107.58" y="467.49" width="6.7" height="6.7" fill="#ED7D31"/><rect x="121.62" y="492.37" width="6.7" height="6.7" fill="#ED7D31"/><rect x="140.35" y="493.45" width="6.7" height="6.7" fill="#ED7D31"/><rect x="159.07" y="493.45" width="6.7" height="6.7" fill="#ED7D31"/><rect x="175.46" y="493.45" width="6.7" height="6.7" fill="#ED7D31"/><rect x="182.48" y="493.45" width="6.7" height="6.7" fill="#ED7D31"/><rect x="201.21" y="493.45" width="6.7" height="6.7" fill="#ED7D31"/><rect x="224.62" y="493.45" width="6.7" height="6.7" fill="#ED7D31"/>
<path d="M45.38 496.8C51.62 491.99 59.41 490.91 64.11 482.38C73.84 464.71 68.45 409.42 73.47 381.44C77.14 360.99 83.49 328.85 87.52 329.17C93.81 329.66 93.41 441.15 101.56 460.75C104.29 467.32 107.67 467.61 110.93 472.29C115.36 478.67 118.7 492.34 124.97 496.08C130.13 499.16 137.45 496.68 143.7 496.8C149.94 496.92 156.39 496.8 162.42 496.8C168.07 496.8 174.49 496.8 178.81 496.8C181.64 496.8 182.93 496.8 185.83 496.8C190.57 496.8 197.97 496.8 204.56 496.8C211.93 496.8 220.16 496.8 227.97 496.8" fill="none" stroke="#A5A5A5" stroke-width="1.5" stroke-linecap="round" stroke-linejoin="round"/>
<path d="M45.38 493.9L48.28 496.8L45.38 499.7L42.48 496.8Z" fill="#A5A5A5"/><path d="M64.11 479.48L67.01 482.38L64.11 485.28L61.21 482.38Z" fill="#A5A5A5"/><path d="M73.47 378.54L76.37 381.44L73.47 384.34L70.57 381.44Z" fill="#A5A5A5"/><path d="M87.52 326.27L90.42 329.17L87.52 332.07L84.62 329.17Z" fill="#A5A5A5"/><path d="M101.56 457.85L104.46 460.75L101.56 463.65L98.66 460.75Z" fill="#A5A5A5"/><path d="M110.93 469.39L113.83 472.29L110.93 475.19L108.03 472.29Z" fill="#A5A5A5"/><path d="M124.97 493.18L127.87 496.08L124.97 498.98L122.07 496.08Z" fill="#A5A5A5"/><path d="M143.7 493.9L146.6 496.8L143.7 499.7L140.8 496.8Z" fill="#A5A5A5"/><path d="M162.42 493.9L165.32 496.8L162.42 499.7L159.52 496.8Z" fill="#A5A5A5"/><path d="M178.81 493.9L181.71 496.8L178.81 499.7L175.91 496.8Z" fill="#A5A5A5"/><path d="M185.83 493.9L188.73 496.8L185.83 499.7L182.93 496.8Z" fill="#A5A5A5"/><path d="M204.56 493.9L207.46 496.8L204.56 499.7L201.66 496.8Z" fill="#A5A5A5"/><path d="M227.97 493.9L230.87 496.8L227.97 499.7L225.07 496.8Z" fill="#A5A5A5"/>
<path d="M45.38 496.8C51.62 491.99 59.41 490.91 64.11 482.38C73.84 464.71 68.45 409.42 73.47 381.44C77.14 360.99 83.49 328.85 87.52 329.17C93.81 329.66 93.26 441.65 101.56 460.75C104.29 467.03 107.71 467.06 110.93 471.56C115.42 477.86 118.67 491.85 124.97 495.72C130.13 498.89 137.45 496.62 143.7 496.8C149.94 496.98 156.39 496.8 162.42 496.8C168.07 496.8 174.49 496.8 178.81 496.8C181.64 496.8 182.93 496.8 185.83 496.8C190.57 496.8 197.97 496.8 204.56 496.8C211.93 496.8 220.16 496.8 227.97 496.8" fill="none" stroke="#FF0000" stroke-width="2.8" stroke-linecap="round" stroke-linejoin="round"/>
<path d="M45.38 493.5L48.68 500.1L42.08 500.1Z" fill="#FF0000"/><path d="M64.11 479.08L67.41 485.68L60.81 485.68Z" fill="#FF0000"/><path d="M73.47 378.14L76.77 384.74L70.17 384.74Z" fill="#FF0000"/><path d="M87.52 325.87L90.82 332.47L84.22 332.47Z" fill="#FF0000"/><path d="M101.56 457.45L104.86 464.05L98.26 464.05Z" fill="#FF0000"/><path d="M110.93 468.26L114.23 474.87L107.63 474.87Z" fill="#FF0000"/><path d="M124.97 492.42L128.27 499.02L121.67 499.02Z" fill="#FF0000"/><path d="M143.7 493.5L147 500.1L140.4 500.1Z" fill="#FF0000"/><path d="M162.42 493.5L165.72 500.1L159.12 500.1Z" fill="#FF0000"/><path d="M178.81 493.5L182.11 500.1L175.51 500.1Z" fill="#FF0000"/><path d="M185.83 493.5L189.13 500.1L182.53 500.1Z" fill="#FF0000"/><path d="M204.56 493.5L207.86 500.1L201.26 500.1Z" fill="#FF0000"/><path d="M227.97 493.5L231.27 500.1L224.67 500.1Z" fill="#FF0000"/>
<path d="M45.38 496.08C48.5 496.08 51.62 496.08 54.75 496.08C57.87 496.08 60.67 496.21 64.11 496.08C68.32 495.92 74.41 497.43 78.15 495C82.58 492.12 84.75 486.44 87.52 477.69C94.37 456.05 94.15 359.18 101.56 358.01C105.48 357.39 111.94 376.33 115.61 388.65C120.62 405.5 120.23 437.05 124.97 451.02C127.59 458.76 131.07 462.73 134.33 467.96C137.33 472.76 139.02 477.44 143.7 481.3C150.12 486.61 162.66 491.37 171.79 493.92C179.77 496.15 187.81 496.35 195.19 496.8C201.77 497.2 208.13 496.8 213.92 496.8C218.94 496.8 223.29 496.8 227.97 496.8C232.65 496.8 237.33 496.8 242.01 496.8C246.69 496.8 251.04 496.8 256.06 496.8C261.85 496.8 268.54 496.8 274.78 496.8" fill="none" stroke="#4472C4" stroke-width="2.75" stroke-linecap="round" stroke-linejoin="round" stroke-dasharray="4.75 6.05"/>
<circle cx="45.38" cy="496.08" r="3.15" fill="#4472C4"/><circle cx="54.75" cy="496.08" r="3.15" fill="#4472C4"/><circle cx="64.11" cy="496.08" r="3.15" fill="#4472C4"/><circle cx="78.15" cy="495" r="3.15" fill="#4472C4"/><circle cx="87.52" cy="477.69" r="3.15" fill="#4472C4"/><circle cx="101.56" cy="358.01" r="3.15" fill="#4472C4"/><circle cx="115.61" cy="388.65" r="3.15" fill="#4472C4"/><circle cx="124.97" cy="451.02" r="3.15" fill="#4472C4"/><circle cx="134.33" cy="467.96" r="3.15" fill="#4472C4"/><circle cx="143.7" cy="481.3" r="3.15" fill="#4472C4"/><circle cx="171.79" cy="493.92" r="3.15" fill="#4472C4"/><circle cx="195.19" cy="496.8" r="3.15" fill="#4472C4"/><circle cx="213.92" cy="496.8" r="3.15" fill="#4472C4"/><circle cx="227.97" cy="496.8" r="3.15" fill="#4472C4"/><circle cx="242.01" cy="496.8" r="3.15" fill="#4472C4"/><circle cx="256.06" cy="496.8" r="3.15" fill="#4472C4"/><circle cx="274.78" cy="496.8" r="3.15" fill="#4472C4"/>
<path d="M45.38 496.08C48.5 496.08 51.62 496.08 54.75 496.08C57.87 496.08 60.67 496.21 64.11 496.08C68.32 495.92 74.35 497.25 78.15 495C82.35 492.5 84.77 488.27 87.52 480.58C95.02 459.53 95.67 352.95 101.56 352.6C105.66 352.36 110.49 398.94 115.61 413.16C118.58 421.42 122.12 424.76 124.97 431.91C128.5 440.75 130.43 454.81 134.33 462.55C137.07 467.97 139.23 471 143.7 475.17C150.2 481.25 162.48 489.67 171.79 493.19C179.63 496.16 187.81 496.23 195.19 496.8C201.76 497.3 208.13 496.8 213.92 496.8C218.94 496.8 223.29 496.8 227.97 496.8C232.65 496.8 237.33 496.8 242.01 496.8C246.69 496.8 251.04 496.8 256.06 496.8C261.85 496.8 268.54 496.8 274.78 496.8" fill="none" stroke="#70AD47" stroke-width="2.1" stroke-linecap="round" stroke-linejoin="round" stroke-dasharray="3.9 4.6"/>
<rect x="42.03" y="492.73" width="6.7" height="6.7" fill="#70AD47"/><rect x="51.4" y="492.73" width="6.7" height="6.7" fill="#70AD47"/><rect x="60.76" y="492.73" width="6.7" height="6.7" fill="#70AD47"/><rect x="74.8" y="491.65" width="6.7" height="6.7" fill="#70AD47"/><rect x="84.17" y="477.23" width="6.7" height="6.7" fill="#70AD47"/><rect x="98.21" y="349.25" width="6.7" height="6.7" fill="#70AD47"/><rect x="112.26" y="409.81" width="6.7" height="6.7" fill="#70AD47"/><rect x="121.62" y="428.56" width="6.7" height="6.7" fill="#70AD47"/><rect x="130.98" y="459.2" width="6.7" height="6.7" fill="#70AD47"/><rect x="140.35" y="471.82" width="6.7" height="6.7" fill="#70AD47"/><rect x="168.44" y="489.84" width="6.7" height="6.7" fill="#70AD47"/><rect x="191.84" y="493.45" width="6.7" height="6.7" fill="#70AD47"/><rect x="210.57" y="493.45" width="6.7" height="6.7" fill="#70AD47"/><rect x="224.62" y="493.45" width="6.7" height="6.7" fill="#70AD47"/><rect x="238.66" y="493.45" width="6.7" height="6.7" fill="#70AD47"/><rect x="252.71" y="493.45" width="6.7" height="6.7" fill="#70AD47"/><rect x="271.43" y="493.45" width="6.7" height="6.7" fill="#70AD47"/>
<path d="M45.38 496.08C48.5 496.08 51.62 496.08 54.75 496.08C57.87 496.08 60.67 496.21 64.11 496.08C68.32 495.92 74.39 497.37 78.15 495C82.49 492.26 84.76 487.13 87.52 478.78C94.59 457.33 95.66 356.57 101.56 356.21C105.66 355.95 110.64 399.85 115.61 413.88C118.62 422.41 122.09 426.27 124.97 433.71C128.45 442.71 130.43 456.62 134.33 464.36C137.07 469.77 139.18 472.95 143.7 476.97C150.18 482.75 162.55 489.95 171.79 493.19C179.68 495.97 187.81 496.23 195.19 496.8C201.76 497.3 208.13 496.8 213.92 496.8C218.94 496.8 223.29 496.8 227.97 496.8C232.65 496.8 237.33 496.8 242.01 496.8C246.69 496.8 251.04 496.8 256.06 496.8C261.85 496.8 268.54 496.8 274.78 496.8" fill="none" stroke="#9DC3E6" stroke-width="2.75" stroke-linecap="round" stroke-linejoin="round" stroke-dasharray="5.85 6.15"/>
<path d="M45.38 492.68L48.78 496.08L45.38 499.48L41.98 496.08Z" fill="#9DC3E6"/><path d="M54.75 492.68L58.15 496.08L54.75 499.48L51.35 496.08Z" fill="#9DC3E6"/><path d="M64.11 492.68L67.51 496.08L64.11 499.48L60.71 496.08Z" fill="#9DC3E6"/><path d="M78.15 491.6L81.55 495L78.15 498.4L74.75 495Z" fill="#9DC3E6"/><path d="M87.52 475.38L90.92 478.78L87.52 482.18L84.12 478.78Z" fill="#9DC3E6"/><path d="M101.56 352.81L104.96 356.21L101.56 359.61L98.16 356.21Z" fill="#9DC3E6"/><path d="M115.61 410.49L119.01 413.88L115.61 417.28L112.21 413.88Z" fill="#9DC3E6"/><path d="M124.97 430.31L128.37 433.71L124.97 437.11L121.57 433.71Z" fill="#9DC3E6"/><path d="M134.33 460.96L137.73 464.36L134.33 467.75L130.93 464.36Z" fill="#9DC3E6"/><path d="M143.7 473.57L147.1 476.97L143.7 480.37L140.3 476.97Z" fill="#9DC3E6"/><path d="M171.79 489.8L175.19 493.19L171.79 496.59L168.39 493.19Z" fill="#9DC3E6"/><path d="M195.19 493.4L198.59 496.8L195.19 500.2L191.79 496.8Z" fill="#9DC3E6"/><path d="M213.92 493.4L217.32 496.8L213.92 500.2L210.52 496.8Z" fill="#9DC3E6"/><path d="M227.97 493.4L231.37 496.8L227.97 500.2L224.57 496.8Z" fill="#9DC3E6"/><path d="M242.01 493.4L245.41 496.8L242.01 500.2L238.61 496.8Z" fill="#9DC3E6"/><path d="M256.06 493.4L259.46 496.8L256.06 500.2L252.66 496.8Z" fill="#9DC3E6"/><path d="M274.78 493.4L278.18 496.8L274.78 500.2L271.38 496.8Z" fill="#9DC3E6"/>
<path d="M45.38 496.08C48.5 496.08 51.62 496.08 54.75 496.08C57.87 496.08 60.67 496.21 64.11 496.08C68.32 495.92 74.35 497.25 78.15 495C82.35 492.5 84.77 488.28 87.52 480.58C95.07 459.34 95.66 351.14 101.56 350.8C105.66 350.56 110.47 397.74 115.61 412.08C118.57 420.36 122.13 423.62 124.97 430.83C128.54 439.89 130.23 455.05 134.33 462.55C137.03 467.49 139.41 469.55 143.7 473.37C150.3 479.24 162.43 488.87 171.79 492.47C179.59 495.48 187.81 494.99 195.19 495.72C201.77 496.36 208.13 496.63 213.92 496.8C218.94 496.94 223.29 496.8 227.97 496.8C232.65 496.8 237.33 496.8 242.01 496.8C246.69 496.8 251.04 496.8 256.06 496.8C261.85 496.8 268.54 496.8 274.78 496.8" fill="none" stroke="#00B050" stroke-width="3.05" stroke-linecap="round" stroke-linejoin="round" stroke-dasharray="4.45 6.35"/>
<path d="M45.38 492.78L48.68 499.38L42.08 499.38Z" fill="#00B050"/><path d="M54.75 492.78L58.05 499.38L51.45 499.38Z" fill="#00B050"/><path d="M64.11 492.78L67.41 499.38L60.81 499.38Z" fill="#00B050"/><path d="M78.15 491.7L81.45 498.3L74.85 498.3Z" fill="#00B050"/><path d="M87.52 477.28L90.82 483.88L84.22 483.88Z" fill="#00B050"/><path d="M101.56 347.5L104.86 354.1L98.26 354.1Z" fill="#00B050"/><path d="M115.61 408.78L118.91 415.38L112.31 415.38Z" fill="#00B050"/><path d="M124.97 427.53L128.27 434.13L121.67 434.13Z" fill="#00B050"/><path d="M134.33 459.25L137.63 465.85L131.03 465.85Z" fill="#00B050"/><path d="M143.7 470.07L147 476.67L140.4 476.67Z" fill="#00B050"/><path d="M171.79 489.17L175.09 495.77L168.49 495.77Z" fill="#00B050"/><path d="M195.19 492.42L198.5 499.02L191.89 499.02Z" fill="#00B050"/><path d="M213.92 493.5L217.22 500.1L210.62 500.1Z" fill="#00B050"/><path d="M227.97 493.5L231.27 500.1L224.67 500.1Z" fill="#00B050"/><path d="M242.01 493.5L245.31 500.1L238.71 500.1Z" fill="#00B050"/><path d="M256.06 493.5L259.36 500.1L252.76 500.1Z" fill="#00B050"/><path d="M274.78 493.5L278.08 500.1L271.48 500.1Z" fill="#00B050"/>
<text class="tt sm" x="49.1" y="304">(c) 17% Nitric Acid -15%TBP/Kerosene</text>
<path d="M201.25 322.4H235.15" stroke="#5B9BD5" stroke-width="2.5" stroke-linecap="round" fill="none"/>
<circle cx="218.2" cy="322.4" r="3.15" fill="#5B9BD5"/>
<text class="lg" xml:space="preserve" x="240" y="325.15">Qc=1.5  l/h (h)</text>
<path d="M200.8 333.51H235.6" stroke="#ED7D31" stroke-width="1.6" stroke-linecap="round" fill="none"/>
<rect x="214.85" y="330.16" width="6.7" height="6.7" fill="#ED7D31"/>
<text class="lg" xml:space="preserve" x="240" y="336.26">Qc=3.5 l/h (h)</text>
<path d="M200.75 344.62H235.65" stroke="#A5A5A5" stroke-width="1.5" stroke-linecap="round" fill="none"/>
<path d="M218.2 341.72L221.1 344.62L218.2 347.52L215.3 344.62Z" fill="#A5A5A5"/>
<text class="lg" xml:space="preserve" x="240" y="347.37">Qc=4.7  l/h (h)</text>
<path d="M201.4 355.73H235" stroke="#FF0000" stroke-width="2.8" stroke-linecap="round" fill="none"/>
<path d="M218.2 352.43L221.5 359.03L214.9 359.03Z" fill="#FF0000"/>
<text class="lg" xml:space="preserve" x="240" y="358.48">Qc=5.5  l/h (h)</text>
<path d="M201.38 366.84H235.03" stroke="#4472C4" stroke-width="2.75" stroke-linecap="round" stroke-dasharray="4.75 6.05" fill="none"/>
<circle cx="218.2" cy="366.84" r="3.15" fill="#4472C4"/>
<text class="lg" xml:space="preserve" x="240" y="369.59">Qc=1.5 l/h (v)</text>
<path d="M201.05 377.95H235.35" stroke="#70AD47" stroke-width="2.1" stroke-linecap="round" stroke-dasharray="3.9 4.6" fill="none"/>
<rect x="214.85" y="374.6" width="6.7" height="6.7" fill="#70AD47"/>
<text class="lg" xml:space="preserve" x="240" y="380.7">Qc=3.5 l/h (v)</text>
<path d="M201.38 389.06H235.03" stroke="#9DC3E6" stroke-width="2.75" stroke-linecap="round" stroke-dasharray="5.85 6.15" fill="none"/>
<path d="M218.2 385.66L221.6 389.06L218.2 392.46L214.8 389.06Z" fill="#9DC3E6"/>
<text class="lg" xml:space="preserve" x="240" y="391.81">Qc=4.7  l/h (v)</text>
<path d="M201.53 400.17H234.88" stroke="#00B050" stroke-width="3.05" stroke-linecap="round" stroke-dasharray="4.45 6.35" fill="none"/>
<path d="M218.2 396.87L221.5 403.47L214.9 403.47Z" fill="#00B050"/>
<text class="lg" xml:space="preserve" x="240" y="402.92">Qc=5.5  l/h (v)</text>
</g>
<g id="panel-d">
<rect x="393.8" y="278.8" width="287.9" height="220.8" fill="#fff" stroke="#363636" stroke-width="1.2"/>
<text class="tk" x="384.4" y="504.2" text-anchor="end">0</text>
<text class="tk" x="384.4" y="485.8" text-anchor="end">0.05</text>
<text class="tk" x="384.4" y="467.4" text-anchor="end">0.1</text>
<text class="tk" x="384.4" y="449" text-anchor="end">0.15</text>
<text class="tk" x="384.4" y="430.6" text-anchor="end">0.2</text>
<text class="tk" x="384.4" y="412.2" text-anchor="end">0.25</text>
<text class="tk" x="384.4" y="393.8" text-anchor="end">0.3</text>
<text class="tk" x="384.4" y="375.4" text-anchor="end">0.35</text>
<text class="tk" x="384.4" y="357" text-anchor="end">0.4</text>
<text class="tk" x="384.4" y="338.6" text-anchor="end">0.45</text>
<text class="tk" x="384.4" y="320.2" text-anchor="end">0.5</text>
<text class="tk" x="384.4" y="301.8" text-anchor="end">0.55</text>
<text class="tk" x="384.4" y="283.4" text-anchor="end">0.6</text>
<text class="tk" x="393.8" y="515.1" text-anchor="middle">0</text>
<text class="tk" x="441.78" y="515.1" text-anchor="middle">1</text>
<text class="tk" x="489.77" y="515.1" text-anchor="middle">2</text>
<text class="tk" x="537.75" y="515.1" text-anchor="middle">3</text>
<text class="tk" x="585.73" y="515.1" text-anchor="middle">4</text>
<text class="tk" x="633.72" y="515.1" text-anchor="middle">5</text>
<text class="tk" x="681.7" y="515.1" text-anchor="middle">6</text>
<text class="ax" transform="translate(359.1 383.6) rotate(-90)" text-anchor="middle">Relative Frequency</text>
<text class="ax" x="522.6" y="522.1" text-anchor="middle">d (mm)</text>
<path d="M398.6 499.6C405 478.99 413.11 461.74 417.79 437.78C423.98 406.11 422.17 325.6 427.39 325.17C431.14 324.86 437.45 360.37 441.78 381.84C447.35 409.46 450.2 457.43 456.18 477.52C459.1 487.33 460.98 495.15 465.78 498.5C469.57 501.14 475.02 499.4 480.17 499.6C486.1 499.83 492.97 499.6 499.36 499.6C505.76 499.6 512.37 499.6 518.56 499.6C524.34 499.6 530.92 499.6 535.35 499.6C538.25 499.6 539.57 499.6 542.55 499.6C547.41 499.6 555.34 499.6 561.74 499.6" fill="none" stroke="#5B9BD5" stroke-width="2.5" stroke-linecap="round" stroke-linejoin="round"/>
<circle cx="398.6" cy="499.6" r="3.15" fill="#5B9BD5"/><circle cx="417.79" cy="437.78" r="3.15" fill="#5B9BD5"/><circle cx="427.39" cy="325.17" r="3.15" fill="#5B9BD5"/><circle cx="441.78" cy="381.84" r="3.15" fill="#5B9BD5"/><circle cx="456.18" cy="477.52" r="3.15" fill="#5B9BD5"/><circle cx="465.78" cy="498.5" r="3.15" fill="#5B9BD5"/><circle cx="480.17" cy="499.6" r="3.15" fill="#5B9BD5"/><circle cx="499.36" cy="499.6" r="3.15" fill="#5B9BD5"/><circle cx="518.56" cy="499.6" r="3.15" fill="#5B9BD5"/><circle cx="535.35" cy="499.6" r="3.15" fill="#5B9BD5"/><circle cx="542.55" cy="499.6" r="3.15" fill="#5B9BD5"/><circle cx="561.74" cy="499.6" r="3.15" fill="#5B9BD5"/>
<path d="M398.6 499.6C405 478.99 413.11 461.8 417.79 437.78C424.01 405.89 421.59 324.72 427.39 324.06C431.11 323.64 437.53 351.38 441.78 368.96C447.59 392.93 451.53 431.76 456.18 455.44C459.45 472.1 459.35 491.92 465.78 497.76C469.49 501.14 475.02 499.27 480.17 499.6C486.1 499.98 492.97 499.6 499.36 499.6C505.76 499.6 512.37 499.6 518.56 499.6C524.34 499.6 530.92 499.6 535.35 499.6C538.25 499.6 539.57 499.6 542.55 499.6C547.41 499.6 555.34 499.6 561.74 499.6" fill="none" stroke="#ED7D31" stroke-width="2.7" stroke-linecap="round" stroke-linejoin="round"/>
<rect x="395.25" y="496.25" width="6.7" height="6.7" fill="#ED7D31"/><rect x="414.44" y="434.43" width="6.7" height="6.7" fill="#ED7D31"/><rect x="424.04" y="320.71" width="6.7" height="6.7" fill="#ED7D31"/><rect x="438.43" y="365.61" width="6.7" height="6.7" fill="#ED7D31"/><rect x="452.83" y="452.09" width="6.7" height="6.7" fill="#ED7D31"/><rect x="462.43" y="494.41" width="6.7" height="6.7" fill="#ED7D31"/><rect x="476.82" y="496.25" width="6.7" height="6.7" fill="#ED7D31"/><rect x="496.01" y="496.25" width="6.7" height="6.7" fill="#ED7D31"/><rect x="515.21" y="496.25" width="6.7" height="6.7" fill="#ED7D31"/><rect x="532" y="496.25" width="6.7" height="6.7" fill="#ED7D31"/><rect x="539.2" y="496.25" width="6.7" height="6.7" fill="#ED7D31"/><rect x="558.39" y="496.25" width="6.7" height="6.7" fill="#ED7D31"/>
<path d="M398.6 500.34C405 481.45 413.11 465.81 417.79 443.66C424.04 414.13 422.1 338.16 427.39 337.68C431.14 337.34 437.28 370.63 441.78 389.2C446.98 410.65 451.69 439.23 456.18 459.12C459.55 474.04 459.58 492.74 465.78 498.13C469.49 501.36 475.02 499.34 480.17 499.6C486.1 499.9 492.97 499.6 499.36 499.6C505.76 499.6 512.37 499.6 518.56 499.6C524.34 499.6 530.92 499.6 535.35 499.6C538.25 499.6 539.57 499.6 542.55 499.6C547.41 499.6 555.34 499.6 561.74 499.6" fill="none" stroke="#A5A5A5" stroke-width="1.5" stroke-linecap="round" stroke-linejoin="round"/>
<path d="M398.6 497.44L401.5 500.34L398.6 503.24L395.7 500.34Z" fill="#A5A5A5"/><path d="M417.79 440.76L420.69 443.66L417.79 446.56L414.89 443.66Z" fill="#A5A5A5"/><path d="M427.39 334.78L430.29 337.68L427.39 340.58L424.49 337.68Z" fill="#A5A5A5"/><path d="M441.78 386.3L444.68 389.2L441.78 392.1L438.88 389.2Z" fill="#A5A5A5"/><path d="M456.18 456.22L459.08 459.12L456.18 462.02L453.28 459.12Z" fill="#A5A5A5"/><path d="M465.78 495.23L468.68 498.13L465.78 501.03L462.88 498.13Z" fill="#A5A5A5"/><path d="M480.17 496.7L483.07 499.6L480.17 502.5L477.27 499.6Z" fill="#A5A5A5"/><path d="M499.36 496.7L502.26 499.6L499.36 502.5L496.46 499.6Z" fill="#A5A5A5"/><path d="M518.56 496.7L521.46 499.6L518.56 502.5L515.66 499.6Z" fill="#A5A5A5"/><path d="M535.35 496.7L538.25 499.6L535.35 502.5L532.45 499.6Z" fill="#A5A5A5"/><path d="M542.55 496.7L545.45 499.6L542.55 502.5L539.65 499.6Z" fill="#A5A5A5"/><path d="M561.74 496.7L564.64 499.6L561.74 502.5L558.84 499.6Z" fill="#A5A5A5"/>
<path d="M398.6 500.34C405 481.45 413.11 465.81 417.79 443.66C424.04 414.13 422.1 338.16 427.39 337.68C431.14 337.34 437.28 370.63 441.78 389.2C446.98 410.65 451.69 439.23 456.18 459.12C459.55 474.04 459.58 492.74 465.78 498.13C469.49 501.36 475.02 499.34 480.17 499.6C486.1 499.9 492.97 499.6 499.36 499.6C505.76 499.6 512.37 499.6 518.56 499.6C524.34 499.6 530.92 499.6 535.35 499.6C538.25 499.6 539.57 499.6 542.55 499.6C547.41 499.6 555.34 499.6 561.74 499.6" fill="none" stroke="#FF0000" stroke-width="2.8" stroke-linecap="round" stroke-linejoin="round"/>
<path d="M398.6 497.04L401.9 503.64L395.3 503.64Z" fill="#FF0000"/><path d="M417.79 440.36L421.09 446.96L414.49 446.96Z" fill="#FF0000"/><path d="M427.39 334.38L430.69 340.98L424.09 340.98Z" fill="#FF0000"/><path d="M441.78 385.9L445.08 392.5L438.48 392.5Z" fill="#FF0000"/><path d="M456.18 455.82L459.48 462.42L452.88 462.42Z" fill="#FF0000"/><path d="M465.78 494.83L469.08 501.43L462.48 501.43Z" fill="#FF0000"/><path d="M480.17 496.3L483.47 502.9L476.87 502.9Z" fill="#FF0000"/><path d="M499.36 496.3L502.66 502.9L496.06 502.9Z" fill="#FF0000"/><path d="M518.56 496.3L521.86 502.9L515.26 502.9Z" fill="#FF0000"/><path d="M535.35 496.3L538.65 502.9L532.05 502.9Z" fill="#FF0000"/><path d="M542.55 496.3L545.85 502.9L539.25 502.9Z" fill="#FF0000"/><path d="M561.74 496.3L565.04 502.9L558.44 502.9Z" fill="#FF0000"/>
<path d="M398.6 495.18C401.8 493.59 405.34 493.08 408.19 490.4C412.01 486.82 413.89 478.97 417.79 473.84C421.84 468.52 428.46 466.23 432.19 459.12C438.03 447.97 436.12 421.07 441.78 409.44C445.51 401.78 452.06 391.94 456.18 392.88C462.67 394.36 466.28 429.66 470.57 445.5C474.11 458.55 475.45 474.14 480.17 481.2C482.87 485.24 486.36 487.26 489.77 488.56C492.8 489.72 495.35 488.59 499.36 489.3C506.43 490.55 518.92 495.68 528.15 497.39C536.44 498.93 544.59 499.25 552.14 499.6C558.89 499.91 565.4 499.6 571.34 499.6C576.48 499.6 580.94 499.6 585.73 499.6C590.53 499.6 595.33 499.6 600.13 499.6C604.93 499.6 609.38 499.6 614.52 499.6C620.46 499.6 627.32 499.6 633.72 499.6" fill="none" stroke="#4472C4" stroke-width="2.75" stroke-linecap="round" stroke-linejoin="round" stroke-dasharray="4.75 6.05"/>
<circle cx="398.6" cy="495.18" r="3.15" fill="#4472C4"/><circle cx="408.19" cy="490.4" r="3.15" fill="#4472C4"/><circle cx="417.79" cy="473.84" r="3.15" fill="#4472C4"/><circle cx="432.19" cy="459.12" r="3.15" fill="#4472C4"/><circle cx="441.78" cy="409.44" r="3.15" fill="#4472C4"/><circle cx="456.18" cy="392.88" r="3.15" fill="#4472C4"/><circle cx="470.57" cy="445.5" r="3.15" fill="#4472C4"/><circle cx="480.17" cy="481.2" r="3.15" fill="#4472C4"/><circle cx="489.77" cy="488.56" r="3.15" fill="#4472C4"/><circle cx="499.36" cy="489.3" r="3.15" fill="#4472C4"/><circle cx="528.15" cy="497.39" r="3.15" fill="#4472C4"/><circle cx="552.14" cy="499.6" r="3.15" fill="#4472C4"/><circle cx="571.34" cy="499.6" r="3.15" fill="#4472C4"/><circle cx="585.73" cy="499.6" r="3.15" fill="#4472C4"/><circle cx="600.13" cy="499.6" r="3.15" fill="#4472C4"/><circle cx="614.52" cy="499.6" r="3.15" fill="#4472C4"/><circle cx="633.72" cy="499.6" r="3.15" fill="#4472C4"/>
<path d="M398.6 495.18C401.8 493.59 405.34 493.08 408.19 490.4C412.01 486.82 413.89 478.97 417.79 473.84C421.84 468.52 428.46 466.23 432.19 459.12C438.03 447.97 436.12 421.07 441.78 409.44C445.51 401.78 452.01 392.01 456.18 392.88C462.36 394.17 466.25 425.16 470.57 438.88C474.08 450 476.61 460.21 480.17 469.06C483.12 476.39 485.6 485.74 489.77 488.56C492.54 490.44 495.35 488.59 499.36 489.3C506.43 490.55 518.92 495.68 528.15 497.39C536.44 498.93 544.59 499.25 552.14 499.6C558.89 499.91 565.4 499.6 571.34 499.6C576.48 499.6 580.94 499.6 585.73 499.6C590.53 499.6 595.33 499.6 600.13 499.6C604.93 499.6 609.38 499.6 614.52 499.6C620.46 499.6 627.32 499.6 633.72 499.6" fill="none" stroke="#70AD47" stroke-width="2.5" stroke-linecap="round" stroke-linejoin="round" stroke-dasharray="3.5 5"/>
<rect x="395.25" y="491.83" width="6.7" height="6.7" fill="#70AD47"/><rect x="404.84" y="487.05" width="6.7" height="6.7" fill="#70AD47"/><rect x="414.44" y="470.49" width="6.7" height="6.7" fill="#70AD47"/><rect x="428.84" y="455.77" width="6.7" height="6.7" fill="#70AD47"/><rect x="438.43" y="406.09" width="6.7" height="6.7" fill="#70AD47"/><rect x="452.83" y="389.53" width="6.7" height="6.7" fill="#70AD47"/><rect x="467.22" y="435.53" width="6.7" height="6.7" fill="#70AD47"/><rect x="476.82" y="465.71" width="6.7" height="6.7" fill="#70AD47"/><rect x="486.42" y="485.21" width="6.7" height="6.7" fill="#70AD47"/><rect x="496.01" y="485.95" width="6.7" height="6.7" fill="#70AD47"/><rect x="524.8" y="494.04" width="6.7" height="6.7" fill="#70AD47"/><rect x="548.79" y="496.25" width="6.7" height="6.7" fill="#70AD47"/><rect x="567.99" y="496.25" width="6.7" height="6.7" fill="#70AD47"/><rect x="582.38" y="496.25" width="6.7" height="6.7" fill="#70AD47"/><rect x="596.78" y="496.25" width="6.7" height="6.7" fill="#70AD47"/><rect x="611.17" y="496.25" width="6.7" height="6.7" fill="#70AD47"/><rect x="630.37" y="496.25" width="6.7" height="6.7" fill="#70AD47"/>
<path d="M398.6 495.18C401.8 493.59 405.34 493.08 408.19 490.4C412.01 486.82 413.89 478.97 417.79 473.84C421.84 468.52 428.46 466.23 432.19 459.12C438.03 447.97 436.12 421.07 441.78 409.44C445.51 401.78 451.87 392.17 456.18 392.88C461.83 393.81 465.95 418.46 470.57 427.84C473.86 434.51 477.41 437.28 480.17 444.4C484.41 455.34 484.01 483.55 489.77 488.56C492.42 490.87 495.35 488.59 499.36 489.3C506.43 490.55 518.92 495.68 528.15 497.39C536.44 498.93 544.59 499.25 552.14 499.6C558.89 499.91 565.4 499.6 571.34 499.6C576.48 499.6 580.94 499.6 585.73 499.6C590.53 499.6 595.33 499.6 600.13 499.6C604.93 499.6 609.38 499.6 614.52 499.6C620.46 499.6 627.32 499.6 633.72 499.6" fill="none" stroke="#9DC3E6" stroke-width="2.75" stroke-linecap="round" stroke-linejoin="round" stroke-dasharray="5.85 6.15"/>
<path d="M398.6 491.78L402 495.18L398.6 498.58L395.2 495.18Z" fill="#9DC3E6"/><path d="M408.19 487L411.59 490.4L408.19 493.8L404.8 490.4Z" fill="#9DC3E6"/><path d="M417.79 470.44L421.19 473.84L417.79 477.24L414.39 473.84Z" fill="#9DC3E6"/><path d="M432.19 455.72L435.59 459.12L432.19 462.52L428.79 459.12Z" fill="#9DC3E6"/><path d="M441.78 406.04L445.18 409.44L441.78 412.84L438.38 409.44Z" fill="#9DC3E6"/><path d="M456.18 389.48L459.58 392.88L456.18 396.28L452.78 392.88Z" fill="#9DC3E6"/><path d="M470.57 424.44L473.97 427.84L470.57 431.24L467.17 427.84Z" fill="#9DC3E6"/><path d="M480.17 441L483.57 444.4L480.17 447.8L476.77 444.4Z" fill="#9DC3E6"/><path d="M489.77 485.16L493.17 488.56L489.77 491.96L486.37 488.56Z" fill="#9DC3E6"/><path d="M499.36 485.9L502.76 489.3L499.36 492.7L495.96 489.3Z" fill="#9DC3E6"/><path d="M528.15 493.99L531.55 497.39L528.15 500.79L524.75 497.39Z" fill="#9DC3E6"/><path d="M552.14 496.2L555.54 499.6L552.14 503L548.75 499.6Z" fill="#9DC3E6"/><path d="M571.34 496.2L574.74 499.6L571.34 503L567.94 499.6Z" fill="#9DC3E6"/><path d="M585.73 496.2L589.13 499.6L585.73 503L582.33 499.6Z" fill="#9DC3E6"/><path d="M600.13 496.2L603.53 499.6L600.13 503L596.73 499.6Z" fill="#9DC3E6"/><path d="M614.52 496.2L617.92 499.6L614.52 503L611.12 499.6Z" fill="#9DC3E6"/><path d="M633.72 496.2L637.12 499.6L633.72 503L630.32 499.6Z" fill="#9DC3E6"/>
<path d="M398.6 495.18C401.8 493.59 405.35 493.1 408.19 490.4C412.03 486.76 413.87 478.68 417.79 473.47C421.83 468.11 428.46 465.86 432.19 458.75C438.03 447.61 436.15 420.79 441.78 409.07C445.51 401.3 451.85 391.48 456.18 392.14C461.75 392.99 465.92 417.04 470.57 426C473.84 432.3 477.44 434.59 480.17 441.46C484.61 452.62 483.84 483.33 489.77 488.56C492.42 490.9 495.35 488.59 499.36 489.3C506.43 490.55 518.92 495.68 528.15 497.39C536.44 498.93 544.59 499.25 552.14 499.6C558.89 499.91 565.4 499.6 571.34 499.6C576.48 499.6 580.94 499.6 585.73 499.6C590.53 499.6 595.33 499.6 600.13 499.6C604.93 499.6 609.38 499.6 614.52 499.6C620.46 499.6 627.32 499.6 633.72 499.6" fill="none" stroke="#00B050" stroke-width="3.05" stroke-linecap="round" stroke-linejoin="round" stroke-dasharray="4.45 6.35"/>
<path d="M398.6 491.88L401.9 498.48L395.3 498.48Z" fill="#00B050"/><path d="M408.19 487.1L411.5 493.7L404.89 493.7Z" fill="#00B050"/><path d="M417.79 470.17L421.09 476.77L414.49 476.77Z" fill="#00B050"/><path d="M432.19 455.45L435.49 462.05L428.89 462.05Z" fill="#00B050"/><path d="M441.78 405.77L445.08 412.37L438.48 412.37Z" fill="#00B050"/><path d="M456.18 388.84L459.48 395.44L452.88 395.44Z" fill="#00B050"/><path d="M470.57 422.7L473.87 429.3L467.27 429.3Z" fill="#00B050"/><path d="M480.17 438.16L483.47 444.76L476.87 444.76Z" fill="#00B050"/><path d="M489.77 485.26L493.07 491.86L486.47 491.86Z" fill="#00B050"/><path d="M499.36 486L502.66 492.6L496.06 492.6Z" fill="#00B050"/><path d="M528.15 494.09L531.45 500.69L524.85 500.69Z" fill="#00B050"/><path d="M552.14 496.3L555.44 502.9L548.85 502.9Z" fill="#00B050"/><path d="M571.34 496.3L574.64 502.9L568.04 502.9Z" fill="#00B050"/><path d="M585.73 496.3L589.03 502.9L582.43 502.9Z" fill="#00B050"/><path d="M600.13 496.3L603.43 502.9L596.83 502.9Z" fill="#00B050"/><path d="M614.52 496.3L617.82 502.9L611.22 502.9Z" fill="#00B050"/><path d="M633.72 496.3L637.02 502.9L630.42 502.9Z" fill="#00B050"/>
<text class="tt sm" x="404.1" y="303.2">(d) 17% Nitric Acid-30%TBP/Kerosene</text>
<path d="M566.65 319.4H600.75" stroke="#5B9BD5" stroke-width="2.5" stroke-linecap="round" fill="none"/>
<circle cx="583.7" cy="319.4" r="3.15" fill="#5B9BD5"/>
<text class="lg" xml:space="preserve" x="605.6" y="322.15">Qc=1.5  l/h (h)</text>
<path d="M566.75 330.71H600.65" stroke="#ED7D31" stroke-width="2.7" stroke-linecap="round" fill="none"/>
<rect x="580.35" y="327.36" width="6.7" height="6.7" fill="#ED7D31"/>
<text class="lg" xml:space="preserve" x="605.6" y="333.46">Qc=3.5 l/h (h)</text>
<path d="M566.15 342.02H601.25" stroke="#A5A5A5" stroke-width="1.5" stroke-linecap="round" fill="none"/>
<path d="M583.7 339.12L586.6 342.02L583.7 344.92L580.8 342.02Z" fill="#A5A5A5"/>
<text class="lg" xml:space="preserve" x="605.6" y="344.77">Qc=4.7  l/h (h)</text>
<path d="M566.8 353.33H600.6" stroke="#FF0000" stroke-width="2.8" stroke-linecap="round" fill="none"/>
<path d="M583.7 350.03L587 356.63L580.4 356.63Z" fill="#FF0000"/>
<text class="lg" xml:space="preserve" x="605.6" y="356.08">Qc=5.5  l/h (h)</text>
<path d="M566.77 364.64H600.62" stroke="#4472C4" stroke-width="2.75" stroke-linecap="round" stroke-dasharray="4.75 6.05" fill="none"/>
<circle cx="583.7" cy="364.64" r="3.15" fill="#4472C4"/>
<text class="lg" xml:space="preserve" x="605.6" y="367.39">Qc=1.5  l/h (v)</text>
<path d="M566.65 375.95H600.75" stroke="#70AD47" stroke-width="2.5" stroke-linecap="round" stroke-dasharray="3.5 5" fill="none"/>
<rect x="580.35" y="372.6" width="6.7" height="6.7" fill="#70AD47"/>
<text class="lg" xml:space="preserve" x="605.6" y="378.7">Qc=3.5  l/h (v)</text>
<path d="M566.77 387.26H600.62" stroke="#9DC3E6" stroke-width="2.75" stroke-linecap="round" stroke-dasharray="5.85 6.15" fill="none"/>
<path d="M583.7 383.86L587.1 387.26L583.7 390.66L580.3 387.26Z" fill="#9DC3E6"/>
<text class="lg" xml:space="preserve" x="605.6" y="390.01">Qc=4.7  l/h (v)</text>
<path d="M566.92 398.57H600.48" stroke="#00B050" stroke-width="3.05" stroke-linecap="round" stroke-dasharray="4.45 6.35" fill="none"/>
<path d="M583.7 395.27L587 401.87L580.4 401.87Z" fill="#00B050"/>
<text class="lg" xml:space="preserve" x="605.6" y="401.32">Qc=5.5  l/h (v)</text>
</g>
</svg>
</body></html>
